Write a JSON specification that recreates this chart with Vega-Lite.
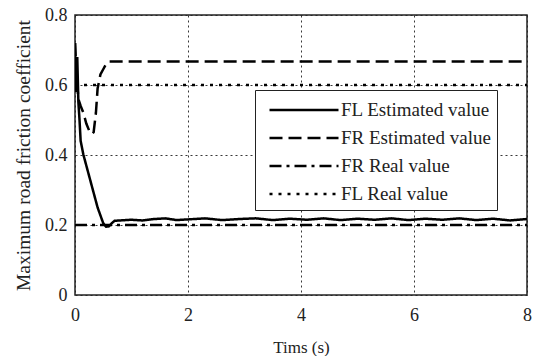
{
  "$schema": "https://vega.github.io/schema/vega-lite/v6.json",
  "autosize": "none",
  "width": 452,
  "height": 280,
  "padding": {"left": 75, "top": 15, "right": 6, "bottom": 61},
  "background": "white",
  "config": {
    "font": "Liberation Serif",
    "view": {"stroke": "#222", "strokeWidth": 1.5},
    "legend": {"labelFont": "Liberation Serif"},
    "axis": {
      "labelFont": "Liberation Serif", "titleFont": "Liberation Serif",
      "labelFontSize": 18, "titleFontSize": 17, "labelColor": "#222", "titleColor": "#222",
      "titleFontWeight": "normal", "domain": false, "ticks": false, "labelFlush": false,
      "grid": true, "gridColor": "#222", "gridDash": [2, 3], "gridWidth": 1, "gridOpacity": 0.9
    }
  },
  "data": {"values": [
    {"t": 0, "v": 0.72, "s": "FL Estimated value"},
    {"t": 0.02, "v": 0.58, "s": "FL Estimated value"},
    {"t": 0.04, "v": 0.68, "s": "FL Estimated value"},
    {"t": 0.06, "v": 0.55, "s": "FL Estimated value"},
    {"t": 0.08, "v": 0.5, "s": "FL Estimated value"},
    {"t": 0.1, "v": 0.44, "s": "FL Estimated value"},
    {"t": 0.15, "v": 0.4, "s": "FL Estimated value"},
    {"t": 0.2, "v": 0.37, "s": "FL Estimated value"},
    {"t": 0.3, "v": 0.31, "s": "FL Estimated value"},
    {"t": 0.4, "v": 0.25, "s": "FL Estimated value"},
    {"t": 0.5, "v": 0.205, "s": "FL Estimated value"},
    {"t": 0.55, "v": 0.195, "s": "FL Estimated value"},
    {"t": 0.6, "v": 0.196, "s": "FL Estimated value"},
    {"t": 0.65, "v": 0.205, "s": "FL Estimated value"},
    {"t": 0.7, "v": 0.212, "s": "FL Estimated value"},
    {"t": 0.8, "v": 0.213, "s": "FL Estimated value"},
    {"t": 1.0, "v": 0.215, "s": "FL Estimated value"},
    {"t": 1.2, "v": 0.213, "s": "FL Estimated value"},
    {"t": 1.4, "v": 0.217, "s": "FL Estimated value"},
    {"t": 1.6, "v": 0.219, "s": "FL Estimated value"},
    {"t": 1.8, "v": 0.214, "s": "FL Estimated value"},
    {"t": 2.0, "v": 0.216, "s": "FL Estimated value"},
    {"t": 2.3, "v": 0.219, "s": "FL Estimated value"},
    {"t": 2.6, "v": 0.214, "s": "FL Estimated value"},
    {"t": 2.9, "v": 0.217, "s": "FL Estimated value"},
    {"t": 3.2, "v": 0.219, "s": "FL Estimated value"},
    {"t": 3.5, "v": 0.214, "s": "FL Estimated value"},
    {"t": 3.8, "v": 0.218, "s": "FL Estimated value"},
    {"t": 4.1, "v": 0.215, "s": "FL Estimated value"},
    {"t": 4.4, "v": 0.219, "s": "FL Estimated value"},
    {"t": 4.7, "v": 0.214, "s": "FL Estimated value"},
    {"t": 5.0, "v": 0.218, "s": "FL Estimated value"},
    {"t": 5.3, "v": 0.215, "s": "FL Estimated value"},
    {"t": 5.6, "v": 0.219, "s": "FL Estimated value"},
    {"t": 5.9, "v": 0.214, "s": "FL Estimated value"},
    {"t": 6.2, "v": 0.218, "s": "FL Estimated value"},
    {"t": 6.5, "v": 0.215, "s": "FL Estimated value"},
    {"t": 6.8, "v": 0.219, "s": "FL Estimated value"},
    {"t": 7.1, "v": 0.214, "s": "FL Estimated value"},
    {"t": 7.4, "v": 0.218, "s": "FL Estimated value"},
    {"t": 7.7, "v": 0.213, "s": "FL Estimated value"},
    {"t": 8.0, "v": 0.217, "s": "FL Estimated value"},
    {"t": 0, "v": 0.72, "s": "FR Estimated value"},
    {"t": 0.03, "v": 0.62, "s": "FR Estimated value"},
    {"t": 0.06, "v": 0.56, "s": "FR Estimated value"},
    {"t": 0.1, "v": 0.54, "s": "FR Estimated value"},
    {"t": 0.15, "v": 0.52, "s": "FR Estimated value"},
    {"t": 0.2, "v": 0.49, "s": "FR Estimated value"},
    {"t": 0.25, "v": 0.47, "s": "FR Estimated value"},
    {"t": 0.3, "v": 0.46, "s": "FR Estimated value"},
    {"t": 0.33, "v": 0.465, "s": "FR Estimated value"},
    {"t": 0.37, "v": 0.52, "s": "FR Estimated value"},
    {"t": 0.4, "v": 0.59, "s": "FR Estimated value"},
    {"t": 0.45, "v": 0.63, "s": "FR Estimated value"},
    {"t": 0.5, "v": 0.645, "s": "FR Estimated value"},
    {"t": 0.55, "v": 0.66, "s": "FR Estimated value"},
    {"t": 0.6, "v": 0.667, "s": "FR Estimated value"},
    {"t": 8.0, "v": 0.667, "s": "FR Estimated value"},
    {"t": 0, "v": 0.2, "s": "FR Real value"},
    {"t": 8, "v": 0.2, "s": "FR Real value"},
    {"t": 0, "v": 0.6, "s": "FL Real value"},
    {"t": 8, "v": 0.6, "s": "FL Real value"}
  ]},
  "mark": {"type": "line", "color": "black", "strokeWidth": 2.5, "clip": true},
  "encoding": {
    "x": {"field": "t", "type": "quantitative", "title": "Tims (s)",
      "scale": {"domain": [0, 8], "nice": false},
      "axis": {"values": [0, 2, 4, 6, 8], "labelPadding": 11, "titlePadding": 15}},
    "y": {"field": "v", "type": "quantitative", "title": "Maximum road friction coefficient",
      "scale": {"domain": [0, 0.8], "nice": false},
      "axis": {"values": [0, 0.2, 0.4, 0.6, 0.8], "format": ".1~f", "labelPadding": 8, "titlePadding": 11, "titleFontSize": 19.5}},
    "strokeDash": {"field": "s", "type": "nominal",
      "scale": {"domain": ["FL Estimated value", "FR Estimated value", "FR Real value", "FL Real value"],
        "range": [[1, 0], [13, 6], [12, 5, 3, 5], [3, 6]]},
      "legend": {"title": null, "orient": "none", "legendX": 180, "legendY": 75,
        "strokeColor": "#222", "fillColor": "white", "padding": 6,
        "symbolType": "M-2.76,0H2.76", "symbolSize": 625, "symbolStrokeWidth": 2.5,
        "symbolStrokeColor": "black", "symbolOffset": 29,
        "labelFontSize": 19, "labelFont": "Liberation Serif",
        "labelColor": "#222", "rowPadding": 4, "labelOffset": 23, "labelLimit": 400}},
    "detail": {"field": "s"},
    "order": {"field": "t"}
  }
}
